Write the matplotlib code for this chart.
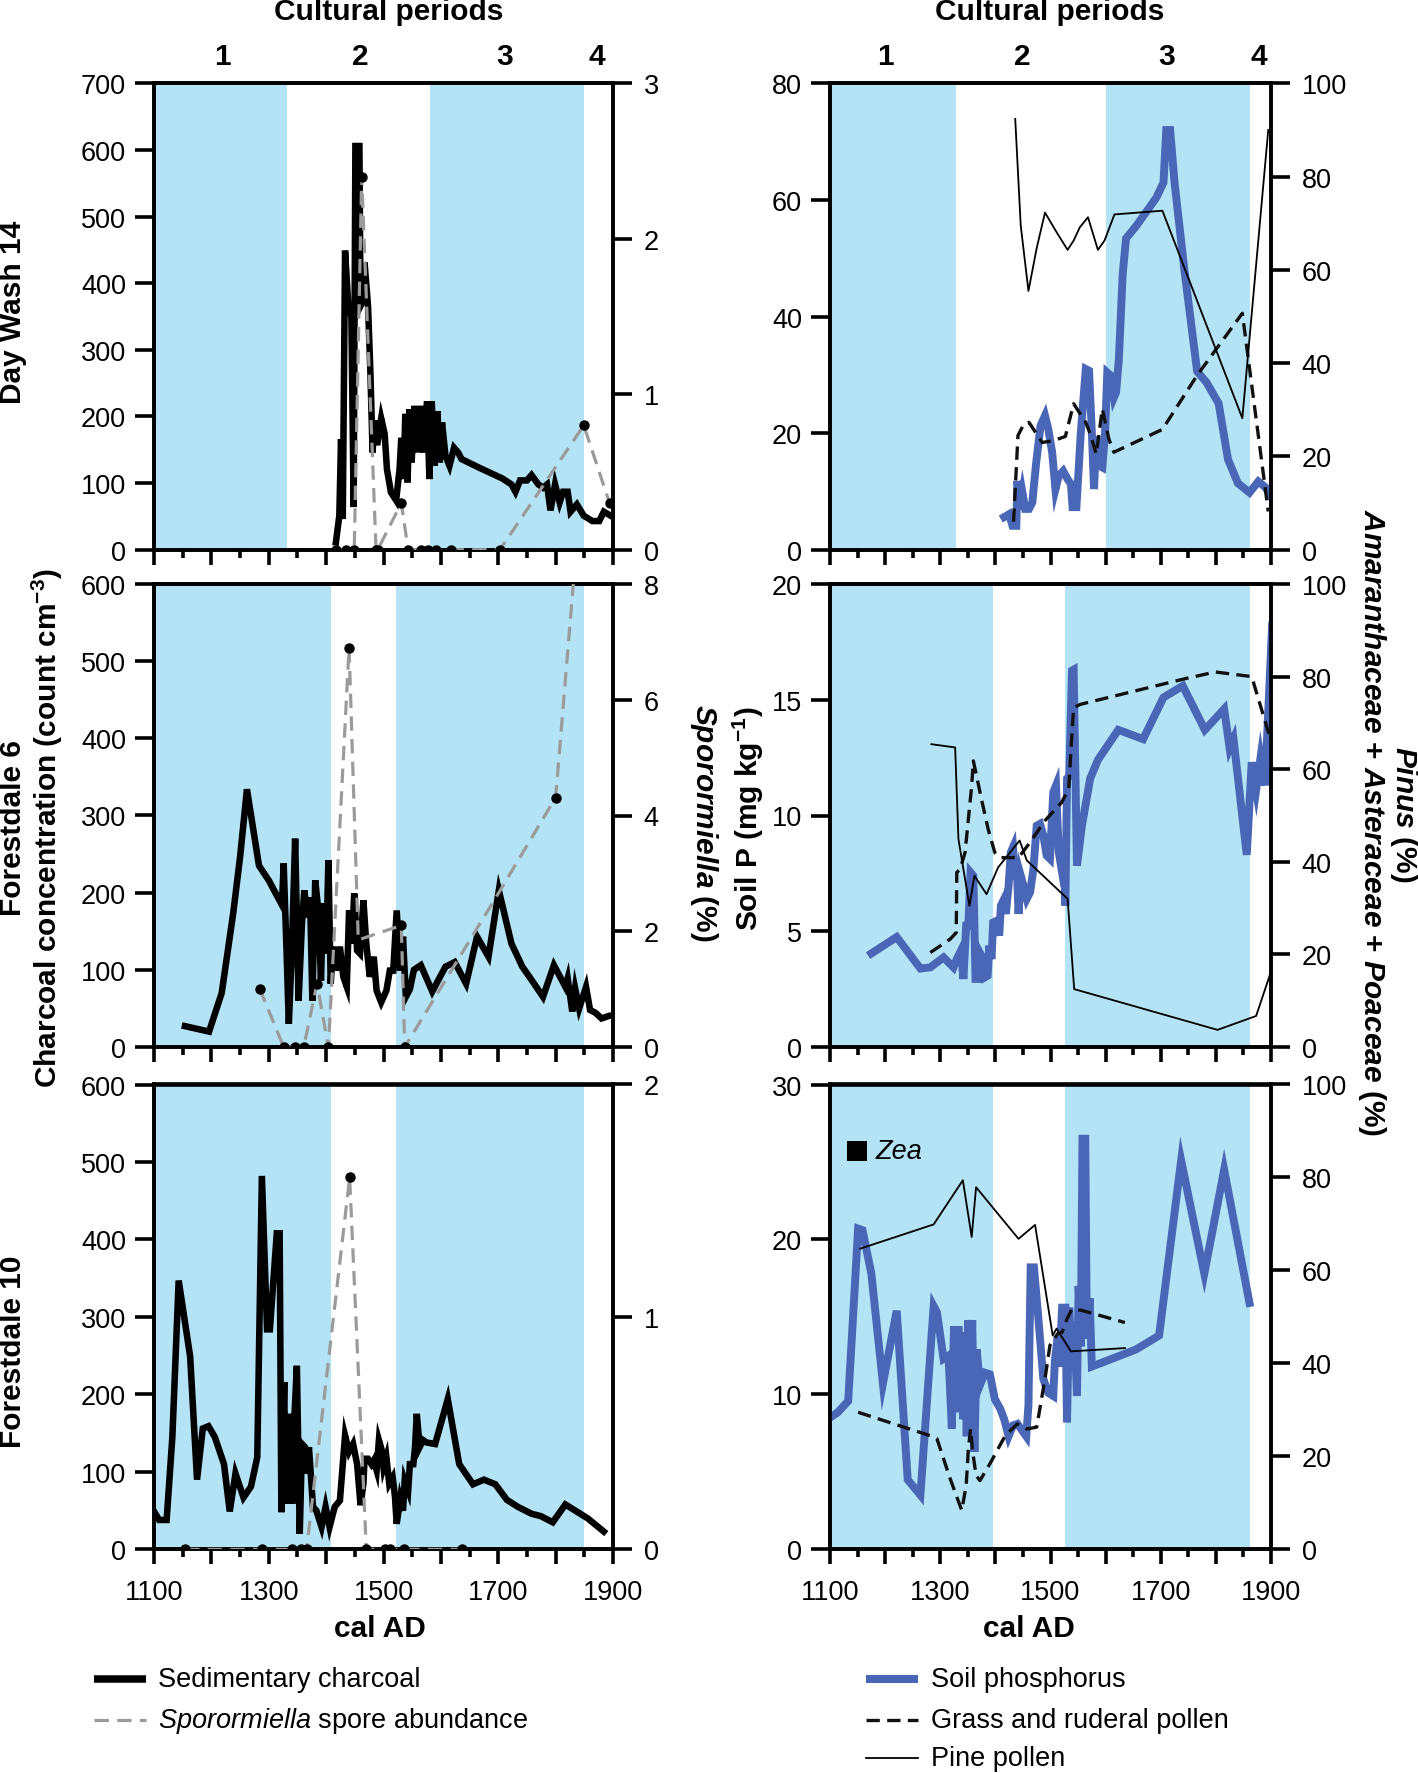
import matplotlib
matplotlib.use("Agg")
import matplotlib.pyplot as plt
from matplotlib.lines import Line2D
from matplotlib.patches import Rectangle
from matplotlib.ticker import MultipleLocator, FuncFormatter
from matplotlib.transforms import blended_transform_factory

plt.rcParams['font.family'] = ['Liberation Sans', 'DejaVu Sans']
plt.rcParams['mathtext.fontset'] = 'custom'
plt.rcParams['mathtext.rm'] = 'Liberation Sans:bold'
plt.rcParams['mathtext.bf'] = 'Liberation Sans:bold'
plt.rcParams['mathtext.it'] = 'Liberation Sans:italic:bold'
plt.rcParams['mathtext.sf'] = 'Liberation Sans:italic'
plt.rcParams['axes.linewidth'] = 2.6

# ---------------- data ----------------
# Day Wash 14 - charcoal (count cm-3)
dw14_char_yr = [1417, 1423, 1426, 1429, 1433, 1439, 1444, 1448, 1451, 1458, 1460, 1464, 1467, 1473,
                1477, 1481, 1484, 1489, 1496, 1502, 1506, 1513, 1522, 1528, 1531, 1535, 1538, 1542,
                1545, 1549, 1554, 1560, 1566, 1570, 1576, 1580, 1584, 1589, 1594, 1598, 1602, 1608,
                1615, 1623, 1630, 1636, 1667, 1707, 1723, 1730, 1738, 1750, 1758, 1770, 1778, 1785,
                1791, 1799, 1807, 1813, 1821, 1826, 1837, 1849, 1864, 1876, 1884, 1896]
dw14_char = [11, 51, 166, 46, 449, 361, 351, 64, 606, 606, 366, 373, 431, 366,
             271, 146, 194, 157, 197, 174, 121, 86, 74, 121, 168, 106, 204, 101,
             211, 131, 216, 146, 216, 146, 223, 106, 223, 126, 208, 131, 191, 141,
             126, 153, 146, 136, 123, 107, 98, 87, 104, 104, 112, 98, 93, 98,
             59, 98, 71, 87, 87, 57, 68, 51, 43, 43, 57, 51]
# Day Wash 14 - Sporormiella (%)
dw14_spor_yr = [1417, 1435, 1449, 1462, 1487, 1490, 1531, 1543, 1566, 1577, 1592, 1618, 1703, 1849, 1894]
dw14_spor = [0, 0, 0, 2.40, 0, 0, 0.30, 0, 0, 0, 0, 0, 0, 0.80, 0.30]
# Day Wash 14 - soil P (mg/kg)
dw14_soil_yr = [1416, 1425, 1431, 1438, 1440, 1444, 1449, 1454, 1461, 1467, 1474, 1482, 1490, 1496,
                1503, 1509, 1515, 1523, 1531, 1537, 1540, 1547, 1555, 1564, 1570, 1575, 1579, 1583,
                1588, 1594, 1599, 1603, 1609, 1615, 1619, 1624, 1631, 1637, 1656, 1692, 1705, 1710,
                1717, 1725, 1743, 1766, 1783, 1805, 1822, 1840, 1861, 1877, 1890, 1898]
dw14_soil = [5.6, 6.1, 4.1, 4.1, 11.8, 7.0, 9.8, 7.0, 7.0, 8.1, 14.9, 21.3, 23.0, 20.7,
             16.7, 10.4, 12.7, 13.5, 12.1, 11.3, 7.3, 7.3, 20.1, 31.0, 30.7, 20.1, 10.4, 19.5,
             14.4, 14.1, 20.1, 30.4, 29.9, 26.1, 27.0, 32.7, 47.3, 53.4, 55.6, 60.4, 63.0, 72.0,
             72.0, 63.0, 47.9, 30.6, 28.7, 25.1, 15.5, 11.4, 9.8, 11.7, 10.7, 9.4]
# Day Wash 14 - pollen (%)
dw14_pine_yr = [1436, 1446, 1460, 1475, 1490, 1512, 1531, 1542, 1553, 1568, 1586, 1598, 1616, 1703, 1848, 1895]
dw14_pine = [92.4, 69.5, 55.5, 64.7, 72.3, 67.9, 64.3, 66.3, 69.1, 71.3, 64.3, 66.3, 71.9, 72.7, 28.2, 90.0]
dw14_grass_yr = [1433, 1441, 1452, 1461, 1485, 1506, 1527, 1542, 1564, 1573, 1583, 1594, 1606, 1615,
                 1703, 1766, 1848, 1895]
dw14_grass = [6.0, 24.5, 27.0, 27.3, 23.0, 23.4, 24.3, 31.3, 27.3, 24.5, 20.5, 30.2, 23.7, 20.9,
              25.8, 37.4, 50.7, 8.2]

# Forestdale 6 - charcoal
fd6_char_yr = [1154, 1196, 1218, 1238, 1250, 1262, 1283, 1300, 1323, 1326, 1331, 1335, 1340, 1346,
               1352, 1358, 1362, 1367, 1372, 1376, 1381, 1387, 1391, 1395, 1400, 1404, 1408, 1412,
               1417, 1424, 1430, 1436, 1440, 1445, 1449, 1454, 1459, 1465, 1470, 1476, 1483, 1488,
               1496, 1505, 1511, 1517, 1523, 1529, 1534, 1539, 1546, 1553, 1565, 1585, 1608, 1624,
               1644, 1663, 1683, 1701, 1723, 1742, 1758, 1778, 1797, 1817, 1821, 1829, 1834, 1841,
               1853, 1860, 1870, 1880, 1892]
fd6_char = [27, 20, 70, 173, 246, 334, 235, 216, 184, 238, 125, 30, 121, 270,
            60, 162, 203, 168, 194, 60, 216, 173, 86, 186, 121, 242, 82, 130,
            99, 130, 91, 78, 177, 134, 199, 125, 121, 190, 134, 91, 117, 73,
            58, 73, 99, 99, 177, 99, 143, 65, 75, 100, 106, 72, 104, 110,
            82, 143, 117, 203, 134, 104, 87, 65, 106, 78, 89, 46, 76, 50,
            78, 48, 44, 37, 40]
fd6_spor_yr = [1284, 1326, 1346, 1361, 1384, 1404, 1440, 1456, 1531, 1537, 1703, 1800, 1835]
fd6_spor = [1.01, 0, 0, 0, 1.09, 0, 6.9, 1.85, 2.1, 0, 2.7, 4.31, 8.5]
fd6_spor_dots = [0, 1, 2, 3, 4, 5, 6, 8, 9, 11]
fd6_soil_yr = [1175, 1221, 1264, 1282, 1306, 1324, 1330, 1336, 1339, 1342, 1347, 1351, 1355, 1360,
               1364, 1369, 1373, 1378, 1381, 1386, 1389, 1393, 1396, 1403, 1407, 1410, 1416, 1419,
               1424, 1428, 1432, 1436, 1439, 1442, 1446, 1451, 1457, 1463, 1469, 1475, 1481, 1487,
               1493, 1499, 1505, 1510, 1515, 1519, 1524, 1527, 1530, 1534, 1539, 1542, 1548, 1557,
               1572, 1586, 1623, 1668, 1705, 1740, 1780, 1815, 1825, 1832, 1856, 1865, 1873, 1881,
               1889, 1902]
fd6_soil = [4.04, 4.75, 3.39, 3.44, 3.87, 3.44, 3.80, 4.09, 3.80, 2.94, 5.24, 5.24, 7.54, 7.40,
            2.94, 2.94, 4.02, 3.80, 3.01, 3.08, 4.38, 3.80, 5.38, 5.46, 4.81, 6.11, 6.40, 5.75,
            6.97, 8.41, 8.63, 7.26, 7.69, 5.75, 7.40, 6.97, 6.40, 6.68, 7.69, 9.56, 9.64, 9.14,
            8.27, 8.13, 11.0, 11.3, 8.41, 7.83, 8.41, 6.11, 11.6, 11.7, 16.26, 16.3, 7.83, 9.56,
            11.6, 12.4, 13.7, 13.3, 15.1, 15.6, 13.7, 14.6, 12.9, 13.3, 8.3, 12.3, 11.1, 12.5,
            11.3, 18.2]
fd6_grass_yr = [1282, 1318, 1329, 1330, 1336, 1345, 1357, 1360, 1366, 1375, 1387, 1399, 1409, 1442,
                1463, 1490, 1520, 1533, 1539, 1542, 1554, 1746, 1799, 1865, 1902]
fd6_grass = [20.4, 23.3, 24.7, 37.7, 38.4, 42.0, 56.4, 61.8, 58.5, 53.4, 47.0, 42.0, 40.9, 40.9,
             44.2, 48.9, 52.8, 55.7, 67.9, 73.3, 74.0, 79.6, 81.0, 80.0, 65.3]
fd6_pine_yr = [1284, 1327, 1333, 1353, 1362, 1384, 1405, 1444, 1457, 1531, 1543, 1803, 1873, 1902]
fd6_pine = [65.4, 64.7, 44.9, 30.5, 37.0, 33.0, 38.8, 44.6, 40.3, 32.0, 12.5, 3.7, 6.7, 17.0]

# Forestdale 10
fd10_char_yr = [1100, 1109, 1122, 1132, 1143, 1163, 1175, 1185, 1195, 1206, 1222, 1232, 1242, 1256,
                1269, 1280, 1288, 1297, 1302, 1314, 1319, 1322, 1327, 1329, 1335, 1338, 1341, 1345,
                1349, 1354, 1358, 1363, 1367, 1370, 1374, 1377, 1383, 1392, 1399, 1406, 1415, 1424,
                1433, 1440, 1447, 1454, 1460, 1465, 1467, 1473, 1479, 1483, 1488, 1492, 1497, 1500,
                1505, 1510, 1516, 1520, 1523, 1529, 1534, 1537, 1543, 1546, 1552, 1555, 1558, 1563,
                1569, 1575, 1590, 1612, 1632, 1656, 1675, 1695, 1715, 1734, 1758, 1774, 1795, 1817,
                1856, 1884]
fd10_char = [49, 38, 38, 145, 347, 249, 90, 156, 159, 145, 110, 49, 98, 67,
             81, 119, 482, 284, 284, 408, 408, 48, 216, 59, 132, 175, 59, 175,
             237, 20, 136, 132, 98, 132, 89, 55, 50, 29, 55, 29, 55, 63,
             147, 126, 136, 110, 57, 85, 117, 117, 110, 115, 102, 141, 128, 106,
             119, 85, 93, 68, 33, 65, 50, 89, 76, 110, 110, 132, 175, 132,
             141, 138, 136, 194, 110, 84, 90, 84, 64, 55, 46, 43, 35, 58,
             40, 23]
fd10_spor_yr = [1154, 1289, 1340, 1356, 1366, 1441, 1470, 1502, 1511, 1536, 1636]
fd10_spor = [0, 0, 0, 0, 0, 1.60, 0, 0, 0, 0, 0]
fd10_soil_yr = [1102, 1114, 1133, 1151, 1159, 1175, 1196, 1221, 1241, 1264, 1288, 1294, 1306, 1315,
                1321, 1325, 1330, 1333, 1336, 1339, 1342, 1345, 1348, 1351, 1355, 1358, 1362, 1366,
                1372, 1381, 1390, 1399, 1409, 1416, 1424, 1432, 1440, 1450, 1456, 1460, 1464, 1470,
                1478, 1487, 1496, 1505, 1508, 1513, 1516, 1521, 1527, 1530, 1534, 1539, 1543, 1548,
                1551, 1555, 1558, 1563, 1566, 1571, 1575, 1655, 1697, 1737, 1779, 1815, 1861]
fd10_soil = [8.55, 8.84, 9.57, 20.7, 20.6, 17.8, 10.7, 15.4, 4.5, 3.5, 15.7, 15.3, 12.3, 12.5,
             7.8, 14.4, 11.9, 14.4, 8.85, 14.0, 8.4, 14.0, 7.3, 14.8, 11.0, 14.8, 6.3, 12.9,
             10.6, 11.4, 11.3, 9.7, 9.06, 8.4, 7.3, 8.0, 8.1, 7.6, 7.3, 9.3, 18.2, 18.2,
             14.9, 11.0, 10.1, 9.9, 12.2, 13.7, 11.8, 15.6, 15.6, 8.2, 15.6, 11.8, 14.7, 9.9,
             17.0, 13.1, 26.5, 26.5, 13.6, 16.2, 11.8, 12.9, 13.8, 25.1, 17.8, 24.5, 15.9]
fd10_pine_yr = [1155, 1288, 1341, 1357, 1365, 1442, 1472, 1504, 1511, 1537, 1635]
fd10_pine = [64.7, 69.9, 79.4, 67.2, 77.9, 66.8, 69.8, 46.0, 47.5, 42.6, 43.3]
fd10_grass_yr = [1151, 1286, 1294, 1306, 1318, 1339, 1347, 1351, 1355, 1359, 1365, 1372, 1390, 1418,
                 1440, 1457, 1475, 1490, 1499, 1513, 1521, 1530, 1539, 1557, 1590, 1635]
fd10_grass = [29.5, 24.3, 23.8, 19.5, 15.2, 8.4, 13.7, 21.6, 25.9, 20.9, 15.9, 14.8, 18.4, 24.5,
              27.0, 25.9, 26.3, 36.7, 43.9, 46.4, 46.7, 49.6, 51.7, 51.4, 50.3, 48.8]

# cultural period shading (blue) per panel
bands_left = [[(1100, 1332), (1581, 1850)], [(1100, 1409), (1522, 1850)], [(1100, 1409), (1522, 1850)]]
bands_right = [[(1100, 1328), (1600, 1861)], [(1100, 1395), (1526, 1861)], [(1100, 1395), (1526, 1861)]]
period_labels = ['1', '2', '3', '4']
period_pos_left = [1220, 1459, 1711, 1872]
period_pos_right = [1200, 1448, 1711, 1877]

# axis limits / steps
left_lims = [(700, 100, 3, 1), (600, 100, 8, 2), (600, 100, 2, 1)]
right_lims = [(80, 20, 100, 20), (20, 5, 100, 20), (30, 10, 100, 20)]
site_names = ['Day Wash 14', 'Forestdale 6', 'Forestdale 10']

# ---------------- figure ----------------
W, H = 1418, 1774
fig = plt.figure(figsize=(W / 100, H / 100), dpi=100)


def fx(x):
    return x / W


def fy(y):
    return 1 - y / H


BAND = '#b3e3f5'
SOILC = '#4a67b7'
SPORC = '#9b9b9b'
TICK_FS = 19.5
BOLD_FS = 21.5
LW_AX = 2.6

rows_y = [(84.4, 550.7), (585.0, 1048.0), (1085.5, 1550.4)]
left_x = (154.0, 613.0)
right_x = (830.0, 1271.0)


def make_ax(xr, yr):
    return fig.add_axes([fx(xr[0]), fy(yr[1]), (xr[1] - xr[0]) / W, (yr[1] - yr[0]) / H])


def year_fmt(v, p):
    iv = int(round(v))
    return str(iv) if (iv - 1100) % 200 == 0 else ''


def style(ax, ymax, ystep, bottom):
    ax.set_xlim(1100, 1900)
    ax.set_ylim(0, ymax)
    ax.xaxis.set_major_locator(MultipleLocator(100))
    ax.xaxis.set_minor_locator(MultipleLocator(50))
    ax.xaxis.set_major_formatter(FuncFormatter(year_fmt))
    ax.yaxis.set_major_locator(MultipleLocator(ystep))
    ax.tick_params(axis='y', which='major', direction='out', length=14, width=LW_AX,
                   labelsize=TICK_FS, pad=6)
    ax.tick_params(axis='x', which='major', direction='out', length=11, width=LW_AX,
                   labelsize=TICK_FS, pad=10, labelbottom=bottom)
    ax.tick_params(axis='x', which='minor', direction='out', length=6, width=LW_AX)
    for s in ax.spines.values():
        s.set_linewidth(LW_AX)


def style_twin(tw, rmax, rstep):
    tw.set_ylim(0, rmax)
    tw.yaxis.set_major_locator(MultipleLocator(rstep))
    tw.tick_params(axis='y', which='major', direction='out', length=14, width=LW_AX,
                   labelsize=TICK_FS, pad=8)
    for s in tw.spines.values():
        s.set_linewidth(LW_AX)


char_data = [(dw14_char_yr, dw14_char), (fd6_char_yr, fd6_char), (fd10_char_yr, fd10_char)]
spor_data = [(dw14_spor_yr, dw14_spor, None), (fd6_spor_yr, fd6_spor, fd6_spor_dots),
             (fd10_spor_yr, fd10_spor, None)]
soil_data = [(dw14_soil_yr, dw14_soil), (fd6_soil_yr, fd6_soil), (fd10_soil_yr, fd10_soil)]
pine_data = [(dw14_pine_yr, dw14_pine), (fd6_pine_yr, fd6_pine), (fd10_pine_yr, fd10_pine)]
grass_data = [(dw14_grass_yr, dw14_grass), (fd6_grass_yr, fd6_grass), (fd10_grass_yr, fd10_grass)]

left_axes, right_axes = [], []
for i in range(3):
    bottom = (i == 2)
    # ---- left column ----
    ax = make_ax(left_x, rows_y[i])
    lmax, lstep, rmax, rstep = left_lims[i]
    style(ax, lmax, lstep, bottom)
    for a, b in bands_left[i]:
        ax.axvspan(a, b, color=BAND, lw=0, zorder=0)
    ax.plot(*char_data[i], color='black', lw=4.7, solid_joinstyle='miter', zorder=3)
    tw = ax.twinx()
    style_twin(tw, rmax, rstep)
    yrs, vals, dots = spor_data[i]
    tw.plot(yrs, vals, color=SPORC, lw=2.3, ls=(0, (4.5, 2.6)), zorder=3)
    tw.plot(yrs, vals, ls='none', marker='o', ms=6.5, color='black',
            markevery=dots, zorder=4)
    left_axes.append(ax)

    # ---- right column ----
    ax2 = make_ax(right_x, rows_y[i])
    lmax, lstep, rmax, rstep = right_lims[i]
    style(ax2, lmax, lstep, bottom)
    for a, b in bands_right[i]:
        ax2.axvspan(a, b, color=BAND, lw=0, zorder=0)
    ax2.plot(*soil_data[i], color=SOILC, lw=5.7, solid_joinstyle='miter', zorder=3)
    tw2 = ax2.twinx()
    style_twin(tw2, rmax, rstep)
    tw2.plot(*grass_data[i], color='#111111', lw=2.4, ls=(0, (4, 2.2)), zorder=3)
    tw2.plot(*pine_data[i], color='black', lw=1.3, zorder=4)
    right_axes.append(ax2)

# ---- cultural period labels ----
for ax, pos in [(left_axes[0], period_pos_left), (right_axes[0], period_pos_right)]:
    tr = blended_transform_factory(ax.transData, fig.transFigure)
    for lab, p in zip(period_labels, pos):
        ax.text(p, fy(57), lab, transform=tr, ha='center', va='center',
                fontsize=BOLD_FS, fontweight='bold')

fig.text(fx(389), fy(12), 'Cultural periods', ha='center', va='center',
         fontsize=BOLD_FS, fontweight='bold')
fig.text(fx(1050), fy(12), 'Cultural periods', ha='center', va='center',
         fontsize=BOLD_FS, fontweight='bold')

fig.text(fx(380), fy(1629), 'cal AD', ha='center', va='center', fontsize=BOLD_FS, fontweight='bold')
fig.text(fx(1029), fy(1629), 'cal AD', ha='center', va='center', fontsize=BOLD_FS, fontweight='bold')

# ---- y labels ----
fig.text(fx(13), fy(312), site_names[0], rotation=90, ha='center', va='center',
         fontsize=BOLD_FS, fontweight='bold')
fig.text(fx(13), fy(828), site_names[1], rotation=90, ha='center', va='center',
         fontsize=BOLD_FS, fontweight='bold')
fig.text(fx(47), fy(828), r'Charcoal concentration (count cm$^{-3}$)', rotation=90,
         ha='center', va='center', fontsize=BOLD_FS, fontweight='bold')
fig.text(fx(13), fy(1352), site_names[2], rotation=90, ha='center', va='center',
         fontsize=BOLD_FS, fontweight='bold')
fig.text(fx(704), fy(823), r'$\mathit{Sporormiella}$ (%)', rotation=270, ha='center', va='center',
         fontsize=BOLD_FS, fontweight='bold')
fig.text(fx(748), fy(819), r'Soil P (mg kg$^{-1}$)', rotation=90, ha='center', va='center',
         fontsize=BOLD_FS, fontweight='bold')
fig.text(fx(1404), fy(814), r'$\mathit{Pinus}$ (%)', rotation=270, ha='center', va='center',
         fontsize=BOLD_FS, fontweight='bold')
fig.text(fx(1372), fy(823), r'$\mathit{Amaranthaceae}$ + $\mathit{Asteraceae}$ + $\mathit{Poaceae}$ (%)',
         rotation=270, ha='center', va='center', fontsize=BOLD_FS, fontweight='bold')

# ---- Zea marker ----
fig.add_artist(Rectangle((fx(847), fy(1162)), 20 / W, 20 / H, transform=fig.transFigure,
                         facecolor='black', edgecolor='none'))
fig.text(fx(876), fy(1152), 'Zea', ha='left', va='center', fontsize=TICK_FS, fontstyle='italic')

# ---- legends ----
LEG_FS = 19.5


def leg_line(x0, x1, y, **kw):
    fig.add_artist(Line2D([fx(x0), fx(x1)], [fy(y), fy(y)], transform=fig.transFigure, **kw))


leg_line(94, 146, 1680, color='black', lw=5.4, solid_capstyle='butt')
fig.text(fx(158), fy(1680), 'Sedimentary charcoal', ha='left', va='center', fontsize=LEG_FS)
leg_line(94, 146, 1721, color=SPORC, lw=2.3, ls=(0, (4.5, 2.6)))
fig.text(fx(158), fy(1721), r'$\mathsf{Sporormiella}$ spore abundance', ha='left', va='center',
         fontsize=LEG_FS)

leg_line(866, 918, 1680, color=SOILC, lw=5.8, solid_capstyle='butt')
fig.text(fx(931), fy(1680), 'Soil phosphorus', ha='left', va='center', fontsize=LEG_FS)
leg_line(866, 918, 1721, color='#111111', lw=2.4, ls=(0, (4, 2.2)))
fig.text(fx(931), fy(1721), 'Grass and ruderal pollen', ha='left', va='center', fontsize=LEG_FS)
leg_line(866, 918, 1759, color='black', lw=1.3)
fig.text(fx(931), fy(1759), 'Pine pollen', ha='left', va='center', fontsize=LEG_FS)

fig.savefig('out.png', dpi=100)
